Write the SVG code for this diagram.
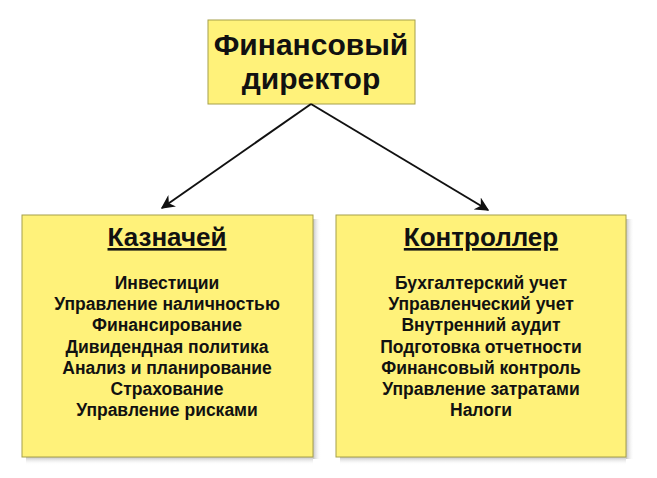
<svg xmlns="http://www.w3.org/2000/svg" width="657" height="478" viewBox="0 0 657 478">
<defs>
<marker id="ah" viewBox="0 0 10 10" refX="9" refY="5" markerWidth="7" markerHeight="7" orient="auto"><path d="M0,0 L10,5 L0,10 L3,5 Z" fill="#111"/></marker>
<linearGradient id="shr" x1="0" x2="1"><stop offset="0" stop-color="#999" stop-opacity="0.6"/><stop offset="1" stop-color="#fff" stop-opacity="0"/></linearGradient>
<linearGradient id="shb" x1="0" x2="0" y1="0" y2="1"><stop offset="0" stop-color="#999" stop-opacity="0.6"/><stop offset="1" stop-color="#fff" stop-opacity="0"/></linearGradient>
</defs>
<style>
.box{fill:#FFF27A;stroke:#A6A04A;stroke-width:1}
text{font-family:"Liberation Sans",Arial,sans-serif;font-weight:bold;fill:#111;text-anchor:middle}
.t{font-size:30px}
.h{font-size:26px;text-decoration:underline}
.i{font-size:17.5px}
</style>
<rect width="657" height="478" fill="#fff"/>
<g id="director">
<rect class="box" x="208" y="20" width="207" height="84"/>
<text class="t" x="311" y="55">Финансовый</text>
<text class="t" x="311" y="89">директор</text>
</g>
<g id="connectors" stroke="#111" stroke-width="2" fill="none">
<line x1="311" y1="104" x2="162" y2="208" marker-end="url(#ah)"/>
<line x1="311" y1="104" x2="488" y2="210" marker-end="url(#ah)"/>
</g>
<g id="treasurer">
<rect x="313" y="219" width="8" height="240" fill="url(#shr)"/>
<rect x="26" y="457" width="287" height="8" fill="url(#shb)"/>
<rect class="box" x="22" y="215" width="291" height="242"/>
<text class="h" x="167" y="246">Казначей</text>
<text class="i" x="167" y="289">Инвестиции</text>
<text class="i" x="167" y="310">Управление наличностью</text>
<text class="i" x="167" y="331">Финансирование</text>
<text class="i" x="167" y="353">Дивидендная политика</text>
<text class="i" x="167" y="374">Анализ и планирование</text>
<text class="i" x="167" y="395">Страхование</text>
<text class="i" x="167" y="416">Управление рисками</text>
</g>
<g id="controller">
<rect x="626" y="219" width="8" height="240" fill="url(#shr)"/>
<rect x="340" y="457" width="286" height="8" fill="url(#shb)"/>
<rect class="box" x="336" y="215" width="290" height="242"/>
<text class="h" x="481" y="246">Контроллер</text>
<text class="i" x="481" y="289">Бухгалтерский учет</text>
<text class="i" x="481" y="310">Управленческий учет</text>
<text class="i" x="481" y="331">Внутренний аудит</text>
<text class="i" x="481" y="353">Подготовка отчетности</text>
<text class="i" x="481" y="374">Финансовый контроль</text>
<text class="i" x="481" y="395">Управление затратами</text>
<text class="i" x="481" y="416">Налоги</text>
</g>
</svg>
